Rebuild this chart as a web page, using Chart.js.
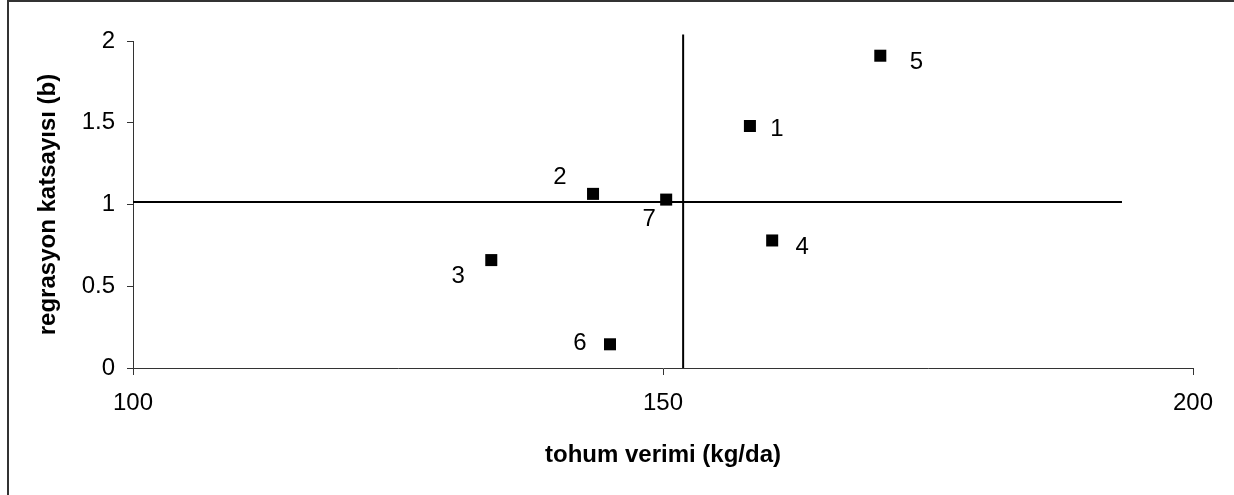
<!DOCTYPE html>
<html>
<head>
<meta charset="utf-8">
<script src="https://cdn.jsdelivr.net/npm/chart.js@4.4.1/dist/chart.umd.min.js"></script>
<style>
  html, body { margin: 0; padding: 0; background: #fff; }
  #wrap { position: relative; width: 1234px; height: 495px; }
</style>
</head>
<body>
<div id="wrap"><canvas id="scatterChart"></canvas></div>
<script>
// --- data ---
const genotypes = ['1', '2', '3', '4', '5', '6', '7'];
const seedYield = [158.2, 143.4, 133.8, 160.3, 170.5, 145.0, 150.3];   // tohum verimi (kg/da)
const regCoef   = [1.48, 1.065, 0.66, 0.78, 1.91, 0.145, 1.03];        // regrasyon katsayısı (b)
const meanYield = 151.9;
const meanCoef  = 1.015;
const xTicks = [100, 150, 200];
const yTicks = [0, 0.5, 1, 1.5, 2];

// label placement next to each marker (px)
const labelOffsets = [[27, 3], [-33, -16], [-33, 16], [30, 7], [36, 7], [-30, -1], [-17, 20]];

const INK = '#000';
const AXIS = '#333';
const FONT = "'Liberation Sans', Arial, sans-serif";

const points = seedYield.map((x, i) => ({ x: x, y: regCoef[i] }));

// outer frame + point numbers
const extras = {
    id: 'extras',
    beforeDraw(chart) {
        const c = chart.ctx;
        c.save();
        c.fillStyle = '#fff';
        c.fillRect(0, 0, chart.width, chart.height);
        c.strokeStyle = AXIS;
        c.lineWidth = 2;
        c.beginPath();
        c.moveTo(8, chart.height + 5);
        c.lineTo(8, 1);
        c.lineTo(chart.width + 5, 1);
        c.stroke();
        c.restore();
    },
    afterDatasetsDraw(chart) {
        const meta = chart.getDatasetMeta(2);
        const c = chart.ctx;
        c.save();
        c.fillStyle = INK;
        c.font = '24px ' + FONT;
        c.textAlign = 'center';
        c.textBaseline = 'middle';
        meta.data.forEach((pt, i) => {
            c.fillText(genotypes[i], pt.x + labelOffsets[i][0], pt.y + labelOffsets[i][1]);
        });
        c.restore();
    }
};

new Chart(document.getElementById('scatterChart').getContext('2d'), {
    type: 'scatter',
    data: {
        datasets: [
            {   // mean of b
                type: 'line',
                data: [{ x: xTicks[0], y: meanCoef }, { x: 193.3, y: meanCoef }],
                borderColor: INK, borderWidth: 2, pointRadius: 0, fill: false, clip: false
            },
            {   // mean yield
                type: 'line',
                data: [{ x: meanYield, y: yTicks[0] }, { x: meanYield, y: 2.04 }],
                borderColor: INK, borderWidth: 2, pointRadius: 0, fill: false, clip: false
            },
            {
                data: points,
                pointStyle: 'rect',
                pointRadius: 8.5,
                pointHoverRadius: 8.5,
                backgroundColor: INK,
                borderColor: INK,
                borderWidth: 0
            }
        ]
    },
    options: {
        responsive: true,
        maintainAspectRatio: false,
        animation: false,
        events: [],
        layout: { padding: { left: 0, top: 41, right: 41, bottom: 0 } },
        plugins: { legend: { display: false }, tooltip: { enabled: false } },
        scales: {
            x: {
                type: 'linear',
                min: xTicks[0], max: xTicks[xTicks.length - 1],
                afterBuildTicks: (s) => { s.ticks = xTicks.map(v => ({ value: v })); },
                afterFit: (s) => { s.height = 127; },
                grid: { drawOnChartArea: false, drawTicks: true, tickLength: 7, color: AXIS },
                border: { display: true, color: AXIS, width: 1 },
                ticks: { color: INK, padding: 14, font: { family: FONT, size: 24 }, maxRotation: 0 },
                title: { display: true, text: 'tohum verimi (kg/da)', color: INK,
                         font: { family: FONT, size: 24, weight: 'bold' }, padding: { top: 0, bottom: 25 } }
            },
            y: {
                type: 'linear',
                min: yTicks[0], max: yTicks[yTicks.length - 1],
                afterBuildTicks: (s) => { s.ticks = yTicks.map(v => ({ value: v })); },
                afterFit: (s) => { s.width = 133; },
                grid: { drawOnChartArea: false, drawTicks: true, tickLength: 6, color: AXIS },
                border: { display: true, color: AXIS, width: 1 },
                ticks: { color: INK, padding: 12, font: { family: FONT, size: 24 },
                         callback: (v) => String(v) },
                title: { display: true, text: 'regrasyon katsayısı (b)', color: INK,
                         font: { family: FONT, size: 24, weight: 'bold' }, padding: { top: 34, bottom: 0 } }
            }
        }
    },
    plugins: [extras]
});
</script>
</body>
</html>
